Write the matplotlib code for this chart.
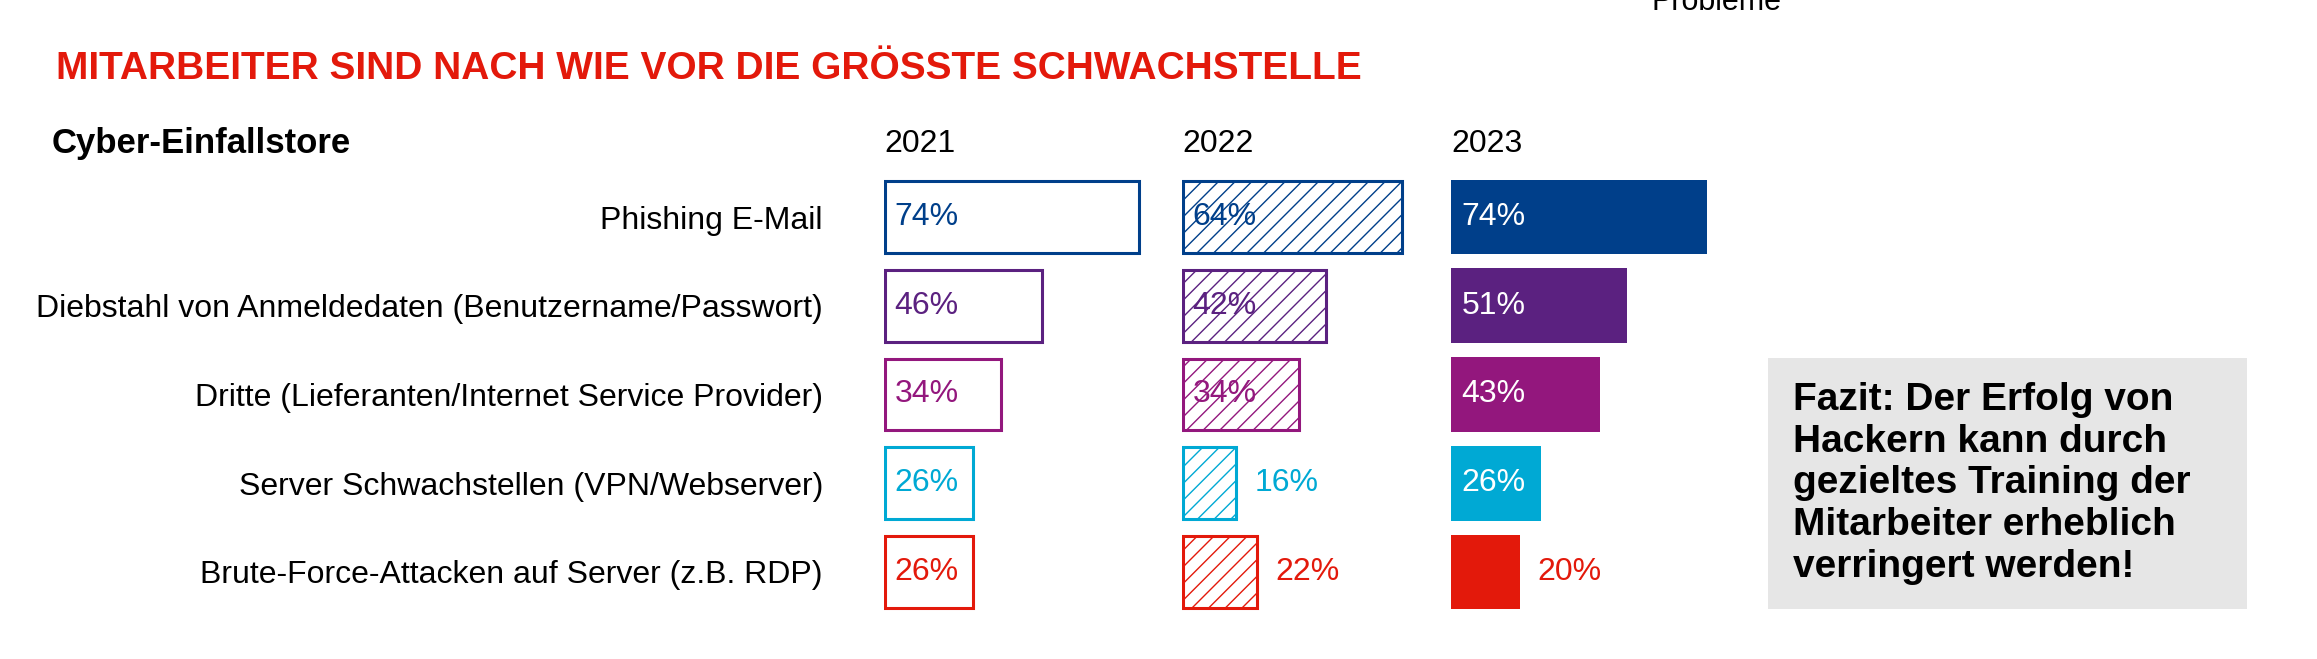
import matplotlib
matplotlib.use("Agg")
import matplotlib.pyplot as plt

categories = ["Phishing E-Mail",
              "Diebstahl von Anmeldedaten (Benutzername/Passwort)",
              "Dritte (Lieferanten/Internet Service Provider)",
              "Server Schwachstellen (VPN/Webserver)",
              "Brute-Force-Attacken auf Server (z.B. RDP)"]
years = ["2021", "2022", "2023"]
v2021 = [74, 46, 34, 26, 26]
v2022 = [64, 42, 34, 16, 22]
v2023 = [74, 51, 43, 26, 20]
values = [v2021, v2022, v2023]
colors = ["#003f8a", "#5b2180", "#93177d", "#00a9d4", "#e3190b"]

plt.rcParams['font.family'] = ['Liberation Sans', 'DejaVu Sans']
plt.rcParams['hatch.linewidth'] = 1.0

W, H = 2317, 659
fig = plt.figure(figsize=(W/100, H/100), dpi=100)
pxpct = 3.46
starts = [884, 1182, 1451]
aw = 300
top = 217 - 44.35
bot = 572 + 44.35
for i, (yr, vals) in enumerate(zip(years, values)):
    ax = fig.add_axes([starts[i]/W, 1-bot/H, aw/W, (bot-top)/H])
    ax.set_xlim(0, aw/pxpct)
    ax.set_ylim(4.5, -0.5)
    for s in ax.spines.values():
        s.set_visible(False)
    ax.set_xticks([])
    ys = list(range(len(categories)))
    for y, v, c in zip(ys, vals, colors):
        if i == 0:
            ax.barh(y, v - 0.6, left=0.3, height=0.81, facecolor="white", edgecolor=c, linewidth=2.2)
        elif i == 1:
            ax.barh(y, v - 0.6, left=0.3, height=0.81, facecolor="white", edgecolor=c, linewidth=2.2, hatch="//")
        else:
            ax.barh(y, v, height=0.84, color=c, linewidth=0)
        if v >= 26:
            tc = "white" if i == 2 else c
            ax.text(3.0, y, f"{v}%", color=tc, fontsize=23, va="center", ha="left")
        else:
            ax.text(v + 5, y, f"{v}%", color=c, fontsize=23, va="center", ha="left")
    if i == 0:
        ax.set_yticks(ys)
        ax.set_yticklabels(categories, fontsize=23)
        ax.tick_params(axis="y", length=0, pad=44)
    else:
        ax.set_yticks([])
    fig.text(starts[i]/W, 1-144/H, yr, fontsize=23, va="center", ha="left")

fig.text(56/W, 1-69/H, "MITARBEITER SIND NACH WIE VOR DIE GRÖSSTE SCHWACHSTELLE",
         color="#e3190b", fontsize=28, fontweight="bold", va="center", ha="left")
fig.text(52/W, 1-144/H, "Cyber-Einfallstore", fontsize=25, fontweight="bold", va="center", ha="left")
fig.text(1652/W, 1-2/H, "Probleme", fontsize=22, va="center", ha="left")

bx = fig.add_axes([1768/W, 1-609/H, 479/W, 251/H])
bx.set_facecolor("#e6e6e6")
bx.set_xticks([]); bx.set_yticks([])
for s in bx.spines.values():
    s.set_visible(False)
bx.text(25/479, 0.5, "Fazit: Der Erfolg von\nHackern kann durch\ngezieltes Training der\nMitarbeiter erheblich\nverringert werden!",
        transform=bx.transAxes, fontsize=28, fontweight="bold", va="center", ha="left", linespacing=1.2)

fig.savefig("out.png", dpi=100)
